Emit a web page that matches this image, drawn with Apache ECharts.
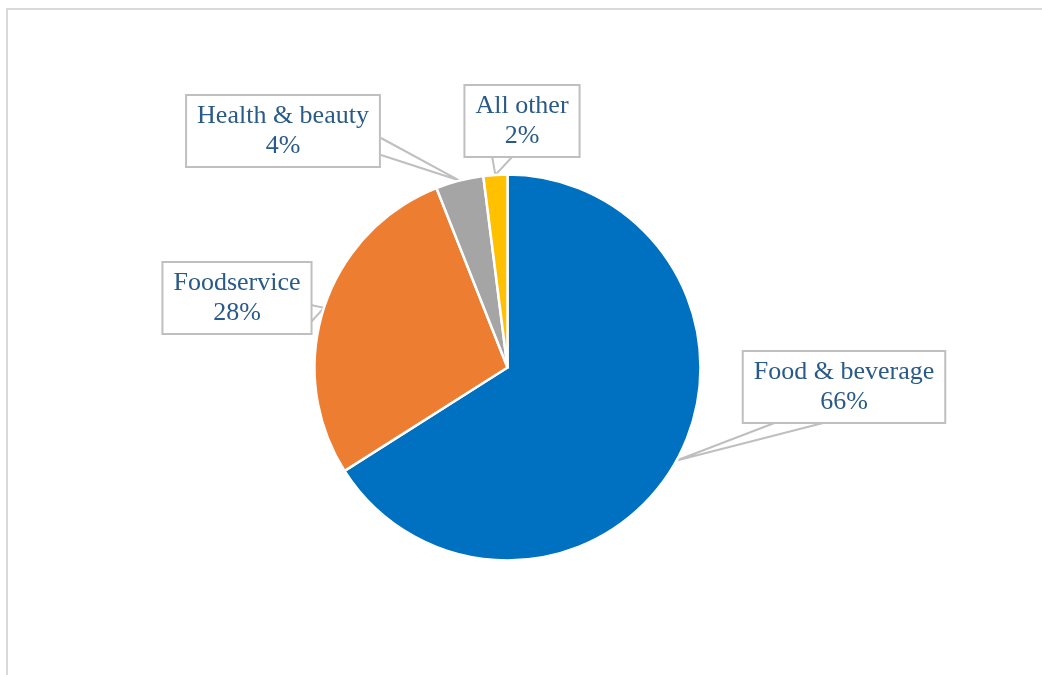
<!DOCTYPE html>
<html>
<head>
<meta charset="utf-8">
<script src="https://cdn.jsdelivr.net/npm/echarts@6/dist/echarts.min.js"></script>
<style>
  html, body { margin: 0; padding: 0; background: #fff; }
  #chart { width: 1042px; height: 675px; }
</style>
</head>
<body>
<div id="chart"></div>
<script>
// Sales share by category
const categories = ['Food & beverage', 'Foodservice', 'Health & beauty', 'All other'];
const shares = [66, 28, 4, 2];
const sliceColors = ['#0070C0', '#ED7D31', '#A5A5A5', '#FFC000'];

// Callout layout: box centre, then the two points where the pointer
// meets the box edge (relative to the box centre)
const calloutCentres = [
  [844, 387],
  [237, 298],
  [283, 131],
  [522, 121]
];
const pointerBases = [
  [[-67, 35], [-17, 35]],
  [[74, 7], [74, 24]],
  [[98, 7], [98, 24]],
  [[-30, 35], [-9, 35]]
];

const chart = echarts.init(document.getElementById('chart'), null, { renderer: 'canvas' });

chart.setOption({
  backgroundColor: '#ffffff',
  animation: false,
  graphic: [{
    type: 'rect',
    shape: { x: 7, y: 9, width: 1100, height: 720 },
    style: { fill: 'none', stroke: '#D9D9D9', lineWidth: 2 },
    silent: true,
    z: -1
  }],
  series: [{
    type: 'pie',
    center: [507.5, 367.5],
    radius: 193,
    startAngle: 90,
    clockwise: true,
    avoidLabelOverlap: false,
    data: categories.map((name, i) => ({
      name: name,
      value: shares[i],
      itemStyle: { color: sliceColors[i] }
    })),
    itemStyle: { borderColor: '#ffffff', borderWidth: 2.5 },
    emphasis: { disabled: true },
    label: {
      show: true,
      formatter: p => p.name + '\n' + p.value + '%',
      fontFamily: 'Liberation Serif',
      fontSize: 26,
      lineHeight: 30,
      color: '#2A5A88',
      backgroundColor: '#ffffff',
      borderColor: '#BFBFBF',
      borderWidth: 2,
      padding: [5, 10],
      align: 'center'
    },
    labelLine: {
      show: true,
      length: 20,
      length2: 20,
      lineStyle: { color: '#BFBFBF', width: 2 }
    },
    labelLayout: p => {
      const c = calloutCentres[p.dataIndex];
      const b = pointerBases[p.dataIndex];
      const tip = p.labelLinePoints ? p.labelLinePoints[0] : null;
      const out = { x: c[0], y: c[1], align: 'center', verticalAlign: 'middle' };
      if (tip) {
        out.labelLinePoints = [
          [c[0] + b[0][0], c[1] + b[0][1]],
          [tip[0], tip[1]],
          [c[0] + b[1][0], c[1] + b[1][1]]
        ];
      }
      return out;
    }
  }]
});
</script>
</body>
</html>
